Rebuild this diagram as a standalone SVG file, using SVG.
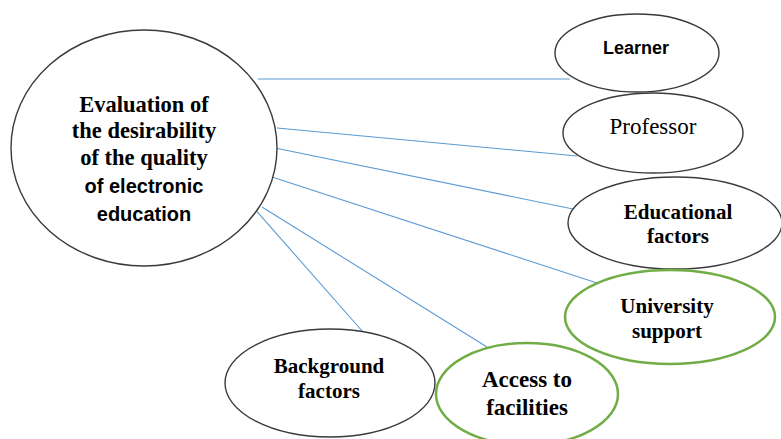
<svg xmlns="http://www.w3.org/2000/svg" width="781" height="439" viewBox="0 0 781 439">
<style>
.n{fill:#fff;stroke:#3a3a3a;stroke-width:1.4}
.g{fill:#fff;stroke:#70AD47;stroke-width:2.5}
.c{stroke:#5B9BD5;stroke-width:1.1;fill:none}
.tb{font-family:"Liberation Serif",serif;font-weight:bold;fill:#000;text-anchor:middle}
.sb{font-family:"Liberation Sans",sans-serif;font-weight:bold;fill:#000;text-anchor:middle}
.tr{font-family:"Liberation Serif",serif;fill:#000;text-anchor:middle}
</style>
<rect width="781" height="439" fill="#fff"/>
<g id="connectors">
<line class="c" x1="258" y1="79" x2="570" y2="79"/>
<line class="c" x1="277" y1="128" x2="577" y2="156"/>
<line class="c" x1="275" y1="148" x2="573" y2="209"/>
<line class="c" x1="272" y1="177" x2="597" y2="283"/>
<line class="c" x1="262" y1="207" x2="487" y2="347"/>
<line class="c" x1="253" y1="207" x2="363" y2="332"/>
</g>
<g id="main">
<ellipse class="n" cx="144" cy="148" rx="133" ry="118"/>
<text class="tb" font-size="22.5" x="144" y="112">Evaluation of</text>
<text class="tb" font-size="22.5" x="144" y="138">the desirability</text>
<text class="tb" font-size="22.5" x="144" y="165">of the quality</text>
<text class="sb" font-size="20" x="144" y="193">of electronic</text>
<text class="sb" font-size="20" x="144" y="221">education</text>
</g>
<g id="learner">
<ellipse class="n" cx="637" cy="53" rx="82" ry="39"/>
<text class="sb" font-size="18" x="636" y="54">Learner</text>
</g>
<g id="professor">
<ellipse class="n" cx="653" cy="133" rx="90" ry="40"/>
<text class="tr" font-size="23" x="653" y="134">Professor</text>
</g>
<g id="educational">
<ellipse class="n" cx="675" cy="223" rx="107" ry="46"/>
<text class="tb" font-size="21" x="678" y="219">Educational</text>
<text class="tb" font-size="21" x="678" y="243">factors</text>
</g>
<g id="university">
<ellipse class="g" cx="670" cy="317" rx="105" ry="47"/>
<text class="tb" font-size="21" x="667" y="313">University</text>
<text class="tb" font-size="21" x="667" y="338">support</text>
</g>
<g id="background">
<ellipse class="n" cx="330" cy="383" rx="105" ry="54"/>
<text class="tb" font-size="21" x="329" y="373">Background</text>
<text class="tb" font-size="21" x="329" y="398">factors</text>
</g>
<g id="access">
<ellipse class="g" cx="527" cy="394" rx="91" ry="51"/>
<text class="tb" font-size="23" x="527" y="387">Access to</text>
<text class="tb" font-size="23" x="527" y="415">facilities</text>
</g>
</svg>
